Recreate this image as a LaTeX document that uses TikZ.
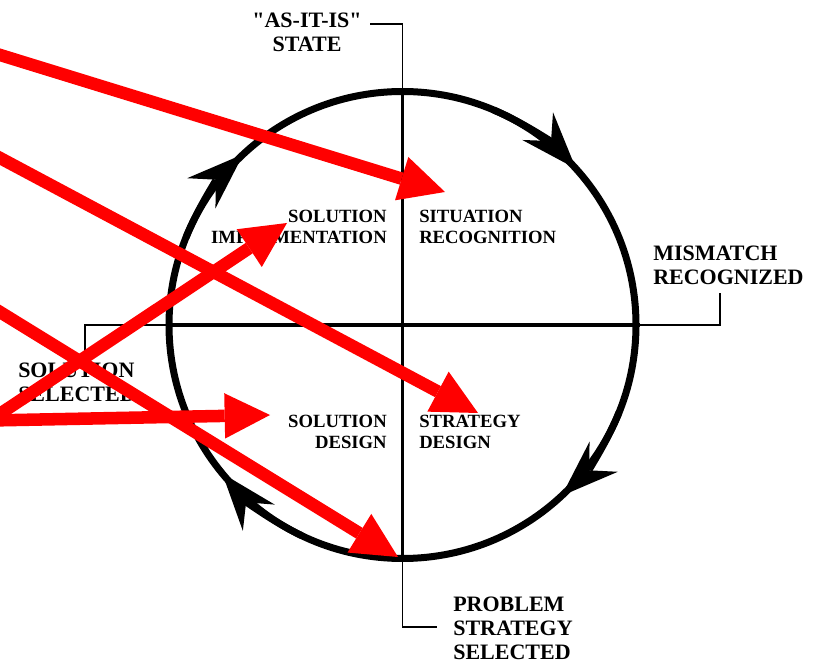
\documentclass[tikz,border=0pt]{standalone}
\usepackage{fontspec}
\setmainfont{Liberation Serif}[Ligatures=TeXOff]
\usetikzlibrary{arrows.meta}

\begin{document}
\begin{tikzpicture}[x=0.75pt, y=-0.75pt,
    quadlabel/.style={font=\bfseries\fontsize{14}{15.75}\selectfont, inner sep=0pt},
    statelabel/.style={font=\bfseries\fontsize{16.5}{18}\selectfont, inner sep=0pt},
    crossline/.style={line width=2.5pt},
    leader/.style={line width=1.1pt},
    cyclearrow/.style={line width=5.25pt, -{Stealth[length=43pt, width=31pt, inset=15pt, line width=0pt]}},
    pointer/.style={red, line width=9.4pt, -{Triangle[length=34pt, width=34pt, line width=0pt]}}
]
\useasboundingbox (0,0) rectangle (819,663);

% Cycle
\node[draw, circle, line width=5.25pt, minimum size=350.25pt, inner sep=0pt] (ring) at (402.5,325) {};
\draw[crossline] (ring.north) -- (ring.south);
\draw[crossline] (ring.west) -- (ring.east);
\foreach \tip in {-42, 47, 140.5, 227}
  \draw[cyclearrow] ([shift={(\tip-25:233.5)}]ring.center) arc[start angle=\tip-25, end angle=\tip, radius=233.5];

% Quadrants
\node[quadlabel, anchor=east, align=right] (solimp) at (387,227) {SOLUTION\\IMPLEMENTATION};
\node[quadlabel, anchor=west, align=left] (sitrec) at (419,227) {SITUATION\\RECOGNITION};
\node[quadlabel, anchor=east, align=right] (soldes) at (387,432) {SOLUTION\\DESIGN};
\node[quadlabel, anchor=west, align=left] (strdes) at (419,432) {STRATEGY\\DESIGN};

% States
\node[statelabel, align=center] (asis) at (307,32) {"AS-IT-IS"\\STATE};
\node[statelabel, anchor=west, align=left] (mismatch) at (653,265) {MISMATCH\\RECOGNIZED};
\node[statelabel, anchor=west, align=left] (probsel) at (453,628.5) {PROBLEM\\STRATEGY\\SELECTED};
\node[statelabel, anchor=west, align=left] (solsel) at (18,382) {SOLUTION\\SELECTED};

% Leaders
\coordinate (asisleg) at (370,24);
\coordinate (mismatchleg) at (720,293);
\coordinate (probselleg) at (437,627);
\coordinate (solselleg) at (85,352);
\draw[leader] (asisleg) -| (ring.north);
\draw[leader] (ring.east) -| (mismatchleg);
\draw[leader] (ring.south) |- (probselleg);
\draw[leader] (ring.west) -| (solselleg);

% Pointers
\coordinate (srcA) at (-20,48.8);
\coordinate (srcB) at (-20,147.3);
\coordinate (srcC) at (-20,299.7);
\coordinate (srcD) at (-10,420.5);
\coordinate (tipA) at (445,192);
\coordinate (tipB) at (478,413);
\coordinate (tipC) at (398,557);
\coordinate (tipD) at (287,223);
\coordinate (tipE) at (270,415);
\draw[pointer] (srcA) -- (tipA);
\draw[pointer] (srcB) -- (tipB);
\draw[pointer] (srcC) -- (tipC);
\draw[pointer] (srcD) -- (tipD);
\draw[pointer] (srcD) -- (tipE);

\end{tikzpicture}
\end{document}
